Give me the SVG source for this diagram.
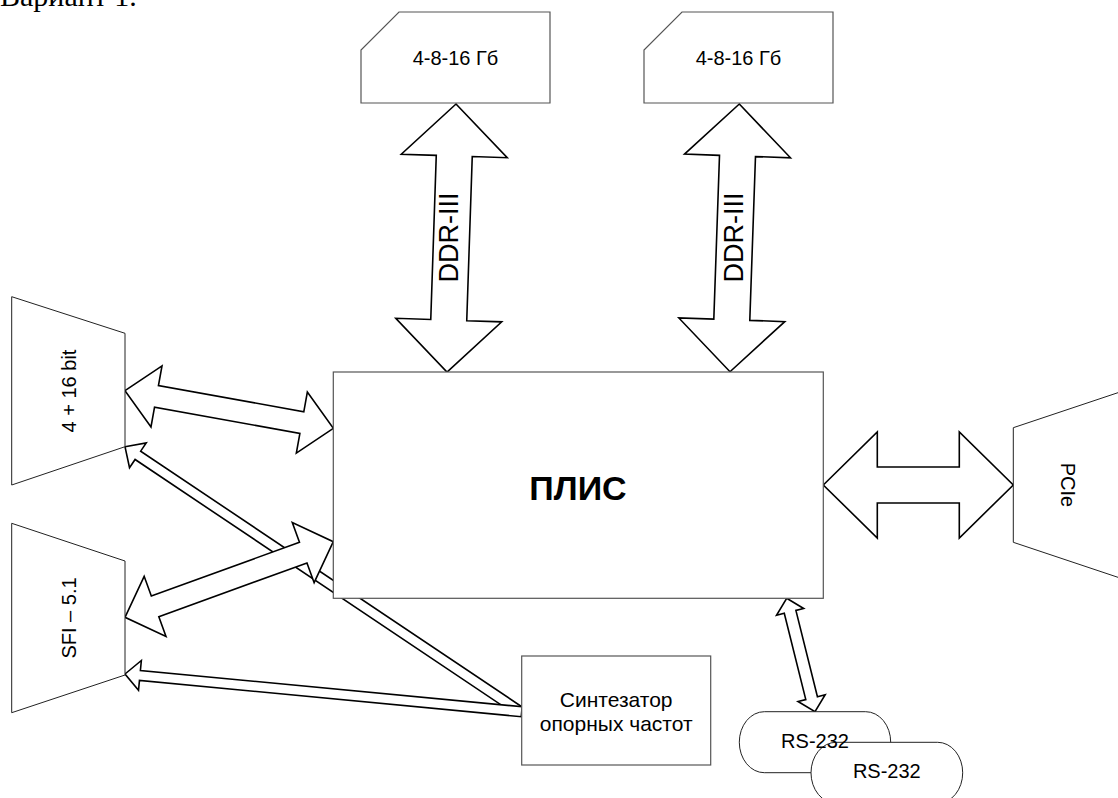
<svg xmlns="http://www.w3.org/2000/svg" width="1118" height="798" viewBox="0 0 1118 798">
<style>
.bg{fill:#fff}
.box{fill:#fff;stroke:#555;stroke-width:1.2}
.trap{fill:#fff;stroke:#222;stroke-width:1}
.arr{fill:#fff;stroke:#000;stroke-width:1.6;stroke-linejoin:miter}
.t{font-family:"Liberation Sans",Arial,sans-serif;font-size:20px;fill:#000;text-anchor:middle}
.ddr{font-size:27px}
.syn{font-size:21px}
.big{font-size:34px;font-weight:bold}
.title{font-family:"Liberation Serif","Times New Roman",serif;font-size:30px;fill:#000}
</style>
<rect class="bg" x="0" y="0" width="1118" height="798"/>
<text class="title" x="0" y="6">Вариант 1.</text>

<g id="connectors">
  <polygon id="arrow-synth-4x16" class="arr" transform="translate(125,446.7) rotate(33.84)" points="0,0 15.5,-15 15.5,-5 474.4,-5 474.4,5 15.5,5 15.5,15"/>
  <polygon id="arrow-synth-sfi" class="arr" transform="translate(125,674) rotate(5.43)" points="0,0 15,-15 15,-5 398.5,-5 398.5,5 15,5 15,15"/>
  <polygon id="arrow-ddr1" class="arr" transform="translate(456,104) rotate(91.92)" points="0,0 52,-53 52,-18 216.2,-18 216.2,-53 268.2,0 216.2,53 216.2,18 52,18 52,53"/>
  <polygon id="arrow-ddr2" class="arr" transform="translate(739.3,104) rotate(91.99)" points="0,0 52,-53 52,-18 215.9,-18 215.9,-53 267.9,0 215.9,53 215.9,18 52,18 52,53"/>
  <polygon id="arrow-pcie" class="arr" transform="translate(823.3,485)" points="0,0 54,-53 54,-18 136,-18 136,-53 190,0 136,53 136,18 54,18 54,53"/>
  <polygon id="arrow-4x16" class="arr" transform="translate(125,390.7) rotate(10.23)" points="0,0 32,-31 32,-11 179.7,-11 179.7,-31 211.7,0 179.7,31 179.7,11 32,11 32,31"/>
  <polygon id="arrow-sfi" class="arr" transform="translate(125,617.3) rotate(-19.95)" points="0,0 32,-32 32,-11 189.6,-11 189.6,-32 221.6,0 189.6,32 189.6,11 32,11 32,32"/>
  <polygon id="arrow-rs232" class="arr" transform="translate(786.7,598.3) rotate(75.99)" points="0,0 14,-14 14,-6 102.9,-6 102.9,-14 116.9,0 102.9,14 102.9,6 14,6 14,14"/>
  <text class="t ddr" transform="translate(458,237.5) rotate(-90)">DDR-III</text>
  <text class="t ddr" transform="translate(742.7,237.5) rotate(-90)">DDR-III</text>
</g>

<g id="mem1">
  <polygon class="box" points="361,103 361,50 399,12 550,12 550,103"/>
  <text class="t" x="455.5" y="65">4-8-16 Гб</text>
</g>
<g id="mem2">
  <polygon class="box" points="644,103 644,50 682,12 833,12 833,103"/>
  <text class="t" x="738.5" y="65">4-8-16 Гб</text>
</g>
<g id="plis">
  <rect class="box" x="333.3" y="372" width="490" height="226.3"/>
  <text class="t big" x="578" y="500">ПЛИС</text>
</g>
<g id="port-4x16">
  <polygon class="trap" points="11.7,296.7 125,333.3 125,446.7 11.7,485"/>
  <text class="t" transform="translate(76,391) rotate(-90)">4 + 16 bit</text>
</g>
<g id="port-sfi">
  <polygon class="trap" points="11.7,523.3 125,561 125,675 11.7,712.7"/>
  <text class="t" transform="translate(76,618) rotate(-90)">SFI – 5.1</text>
</g>
<g id="port-pcie">
  <polygon class="trap" points="1013.3,427.7 1126,390 1126,580 1013.3,542.3"/>
  <text class="t" transform="translate(1061,485) rotate(90)">PCIe</text>
</g>
<g id="synth">
  <rect class="box" x="521.7" y="656" width="189" height="109"/>
  <text class="t syn" x="616.2" y="706.7">Синтезатор</text>
  <text class="t syn" x="616.2" y="730.7">опорных частот</text>
</g>
<g id="rs232-1">
  <rect class="trap" x="739.3" y="711.7" width="151.4" height="61" rx="25" ry="30.5"/>
</g>
<g id="rs232-2">
  <rect class="trap" x="811" y="742.3" width="151.7" height="61" rx="25" ry="30.5"/>
  <text class="t" x="886.8" y="778.3">RS-232</text>
</g>
<text class="t" x="815" y="748.3">RS-232</text>
</svg>
